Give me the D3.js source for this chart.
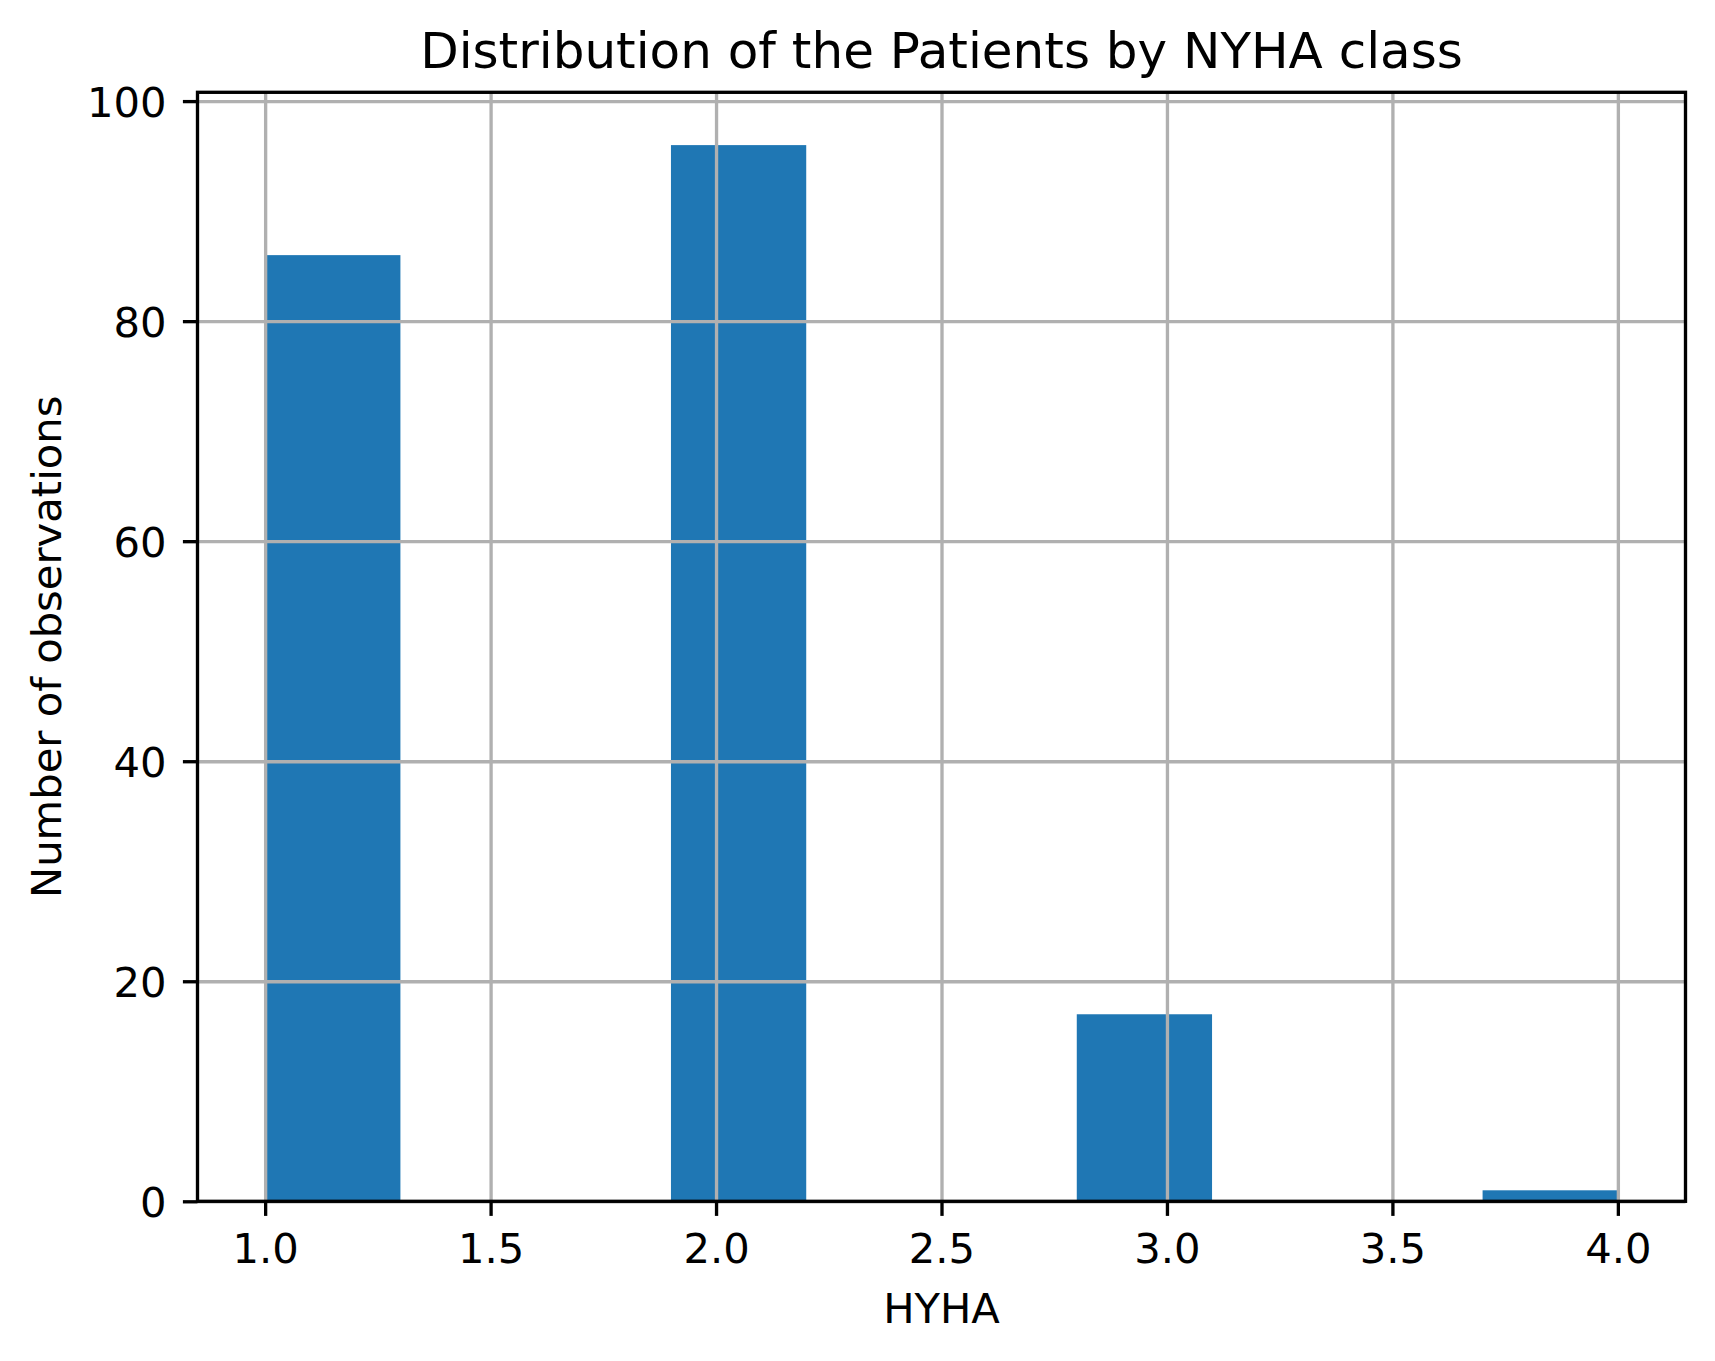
<html>
	<head>
		<meta charset="utf-8">
		<script src="https://d3js.org/d3.v7.min.js"></script>
		<style>
			body { margin: 0; background: #fff; }
			text { font-family: "DejaVu Sans", sans-serif; }
		</style>
	</head>
	<body>
		<div id="stuff">
			<svg width="1715" height="1361"></svg>
		</div>
		<script>

	// histogram of NYHA class, 10 bins between 1 and 4
	var binEdges = [1.0, 1.3, 1.6, 1.9, 2.2, 2.5, 2.8, 3.1, 3.4, 3.7, 4.0];
	var binCounts = [86, 0, 0, 96, 0, 0, 17, 0, 0, 1];
	var xTicks = [1.0, 1.5, 2.0, 2.5, 3.0, 3.5, 4.0];
	var yTicks = [0, 20, 40, 60, 80, 100];
	var titleText = "Distribution of the Patients by NYHA class";
	var xLabelText = "HYHA";
	var yLabelText = "Number of observations";

	var svg = d3.select("#stuff").select("svg");

	var plotLeft = 197.5, plotRight = 1685.5, plotTop = 92.3, plotBottom = 1201.3;
	var lineW = 3.33;
	var barColor = "#1f77b4";
	var gridColor = "#b0b0b0";
	var tickFont = "41.7px";

	var x = d3.scaleLinear().domain([0.85, 4.15]).range([plotLeft, plotRight]);
	var y = d3.scaleLinear().domain([0, 100.8]).range([plotBottom, plotTop]);

	var bins = binCounts.map(function(c, i) {
		return {x0: binEdges[i], x1: binEdges[i + 1], count: c};
	});

	// bars
	svg.append("g")
		.selectAll("rect")
		.data(bins.filter(function(d) { return d.count > 0; }))
		.enter().append("rect")
		.attr("x", function(d) { return x(d.x0); })
		.attr("y", function(d) { return y(d.count); })
		.attr("width", function(d) { return x(d.x1) - x(d.x0); })
		.attr("height", function(d) { return y(0) - y(d.count); })
		.attr("fill", barColor);

	// grid, drawn above the bars
	var xGrid = svg.append("g")
		.attr("transform", "translate(0," + plotBottom + ")")
		.call(d3.axisBottom(x).tickValues(xTicks).tickSize(-(plotBottom - plotTop)).tickFormat(""));
	var yGrid = svg.append("g")
		.attr("transform", "translate(" + plotLeft + ",0)")
		.call(d3.axisLeft(y).tickValues(yTicks).tickSize(-(plotRight - plotLeft)).tickFormat(""));
	[xGrid, yGrid].forEach(function(g) {
		g.select(".domain").remove();
		g.selectAll("line").attr("stroke", gridColor).attr("stroke-width", lineW);
	});

	// x axis ticks and labels
	var xAxis = svg.append("g")
		.attr("transform", "translate(0," + plotBottom + ")")
		.call(d3.axisBottom(x).tickValues(xTicks).tickSize(14.6).tickPadding(14.6)
			.tickFormat(d3.format(".1f")));
	xAxis.select(".domain").remove();
	xAxis.selectAll("line").attr("stroke", "#000").attr("stroke-width", lineW);
	xAxis.selectAll("text")
		.attr("dy", null)
		.attr("y", 61.4)
		.attr("fill", "#000")
		.style("font-size", tickFont)
		.attr("font-family", "DejaVu Sans");

	// y axis ticks and labels
	var yAxis = svg.append("g")
		.attr("transform", "translate(" + plotLeft + ",0)")
		.call(d3.axisLeft(y).tickValues(yTicks).tickSize(14.6).tickPadding(14.6)
			.tickFormat(d3.format("d")));
	yAxis.select(".domain").remove();
	yAxis.selectAll("line").attr("stroke", "#000").attr("stroke-width", lineW);
	yAxis.selectAll("text")
		.attr("dy", null)
		.attr("y", 15.5)
		.attr("x", -31)
		.attr("fill", "#000")
		.style("font-size", tickFont)
		.attr("font-family", "DejaVu Sans");

	// frame
	svg.append("rect")
		.attr("x", plotLeft)
		.attr("y", plotTop)
		.attr("width", plotRight - plotLeft)
		.attr("height", plotBottom - plotTop)
		.attr("fill", "none")
		.attr("stroke", "#000")
		.attr("stroke-width", lineW)
		.attr("stroke-linecap", "square");

	// title and axis labels
	svg.append("text")
		.attr("x", (plotLeft + plotRight) / 2)
		.attr("y", 68.3)
		.style("font-size", "50px")
		.style("text-anchor", "middle")
		.attr("fill", "#000")
		.text(titleText);

	svg.append("text")
		.attr("x", (plotLeft + plotRight) / 2)
		.attr("y", 1322.7)
		.style("font-size", "41.7px")
		.style("text-anchor", "middle")
		.attr("fill", "#000")
		.text(xLabelText);

	svg.append("text")
		.attr("transform", "translate(60.7," + ((plotTop + plotBottom) / 2) + ") rotate(-90)")
		.style("font-size", "41.7px")
		.style("text-anchor", "middle")
		.attr("fill", "#000")
		.text(yLabelText);

		</script>
	</body>
</html>
